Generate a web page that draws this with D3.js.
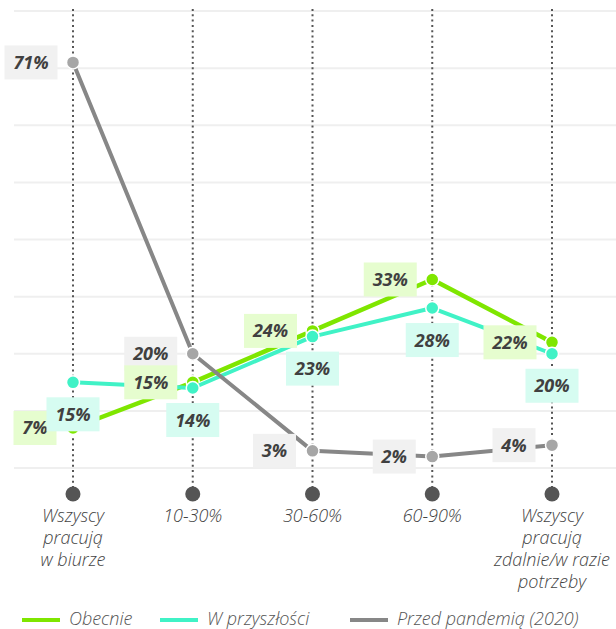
<!DOCTYPE html>
<html>
<head>
<meta charset="utf-8">
<script src="https://cdn.jsdelivr.net/npm/d3@7"></script>
<style>
  html, body { margin: 0; padding: 0; background: #fff; }
  svg { display: block; font-family: "Open Sans", "Noto Sans", sans-serif; }
</style>
</head>
<body>
<svg id="chart" width="616" height="629"></svg>
<script>
// Categories (share of time worked remotely)
const categories = [
  ["Wszyscy", "pracują", "w biurze"],
  ["10-30%"],
  ["30-60%"],
  ["60-90%"],
  ["Wszyscy", "pracują", "zdalnie/w razie", "potrzeby"]
];
const categoryKeys = ["biuro", "10-30", "30-60", "60-90", "zdalnie"];

// Series values (%)
const obecnie = [7, 15, 24, 33, 22];
const wPrzyszlosci = [15, 14, 23, 28, 20];
const przedPandemia = [71, 20, 3, 2, 4];

const seriesNames = ["Obecnie", "W przyszłości", "Przed pandemią (2020)"];
const gridTicks = [0, 10, 20, 30, 40, 50, 60, 70, 80];

const svg = d3.select("#chart");

const x = d3.scalePoint().domain(categoryKeys).range([73, 552]);
const y = d3.scaleLinear().domain([0, 80]).range([468, 11]);

// horizontal gridlines
svg.append("g").selectAll("line").data(gridTicks).join("line")
  .attr("x1", 14).attr("x2", 616)
  .attr("y1", d => y(d)).attr("y2", d => y(d))
  .attr("stroke", "#efefef").attr("stroke-width", 2);

// dotted category guides with end markers
const guides = svg.append("g");
guides.selectAll("line").data(categoryKeys).join("line")
  .attr("x1", d => x(d)).attr("x2", d => x(d))
  .attr("y1", 9).attr("y2", 488)
  .attr("stroke", "#555").attr("stroke-width", 2)
  .attr("stroke-dasharray", "2,3.3");
guides.selectAll("circle").data(categoryKeys).join("circle")
  .attr("cx", d => x(d)).attr("cy", 494).attr("r", 7.5)
  .attr("fill", "#555");

// category labels
const catLabels = svg.append("g");
categoryKeys.forEach((k, i) => {
  const t = catLabels.append("text")
    .attr("x", x(k)).attr("y", 522)
    .attr("text-anchor", "middle")
    .attr("font-size", 18).attr("font-style", "italic").attr("font-weight", 300)
    .attr("fill", "#444");
  categories[i].forEach((line, j) => {
    t.append("tspan").attr("x", x(k)).attr("dy", j === 0 ? 0 : 22).text(line);
  });
});

const series = [
  { name: seriesNames[0], values: obecnie, line: "#7fe600", dot: "#7fe600", box: "#e6fdcf", width: 4.5, r: 6.5, place: "left" },
  { name: seriesNames[1], values: wPrzyszlosci, line: "#40f2c6", dot: "#40f2c6", box: "#d6fcf1", width: 4, r: 6.5, place: "below" },
  { name: seriesNames[2], values: przedPandemia, line: "#878787", dot: "#a6a6a6", box: "#f1f1f1", width: 4, r: 6.5, place: "left" }
];

const lineGen = d3.line().x((d, i) => x(categoryKeys[i])).y(d => y(d));

const marks = svg.append("g");
series.forEach(s => {
  const g = marks.append("g");
  g.append("path").datum(s.values)
    .attr("d", lineGen)
    .attr("fill", "none").attr("stroke", s.line)
    .attr("stroke-width", s.width).attr("stroke-linejoin", "round");
  g.selectAll("circle").data(s.values).join("circle")
    .attr("cx", (d, i) => x(categoryKeys[i])).attr("cy", d => y(d))
    .attr("r", s.r).attr("fill", s.dot)
    .attr("stroke", "#fff").attr("stroke-width", 1.5);
});

// value labels (gray first, then green, then cyan on top)
const labelOrder = [series[2], series[0], series[1]];
const labels = svg.append("g");
labelOrder.forEach(s => {
  s.values.forEach((v, i) => {
    const txt = v + "%";
    const w = txt.length > 2 ? 53 : 43;
    const h = 34;
    let cx, cy;
    if (s.place === "left") {
      cx = x(categoryKeys[i]) - 42 + (txt.length > 2 ? 0 : 4);
      cy = y(v);
    } else {
      cx = x(categoryKeys[i]);
      cy = y(v) + 32;
    }
    const g = labels.append("g");
    g.append("rect")
      .attr("x", cx - w / 2).attr("y", cy - h / 2)
      .attr("width", w).attr("height", h)
      .attr("fill", s.box);
    g.append("text")
      .attr("x", cx).attr("y", cy)
      .attr("dy", "0.36em")
      .attr("text-anchor", "middle")
      .attr("font-size", 18).attr("font-weight", 700).attr("font-style", "italic")
      .attr("fill", "#404040")
      .text(txt);
  });
});

// legend
const legendItems = [
  { name: seriesNames[0], color: "#7fe600", x1: 22 },
  { name: seriesNames[1], color: "#40f2c6", x1: 160 },
  { name: seriesNames[2], color: "#878787", x1: 350 }
];
const legend = svg.append("g");
legendItems.forEach(d => {
  legend.append("line")
    .attr("x1", d.x1).attr("x2", d.x1 + 38)
    .attr("y1", 620).attr("y2", 620)
    .attr("stroke", d.color).attr("stroke-width", 4);
  legend.append("text")
    .attr("x", d.x1 + 47).attr("y", 619).attr("dy", "0.35em")
    .attr("font-size", 18).attr("font-style", "italic").attr("font-weight", 300)
    .attr("fill", "#555")
    .text(d.name);
});
</script>
</body>
</html>
